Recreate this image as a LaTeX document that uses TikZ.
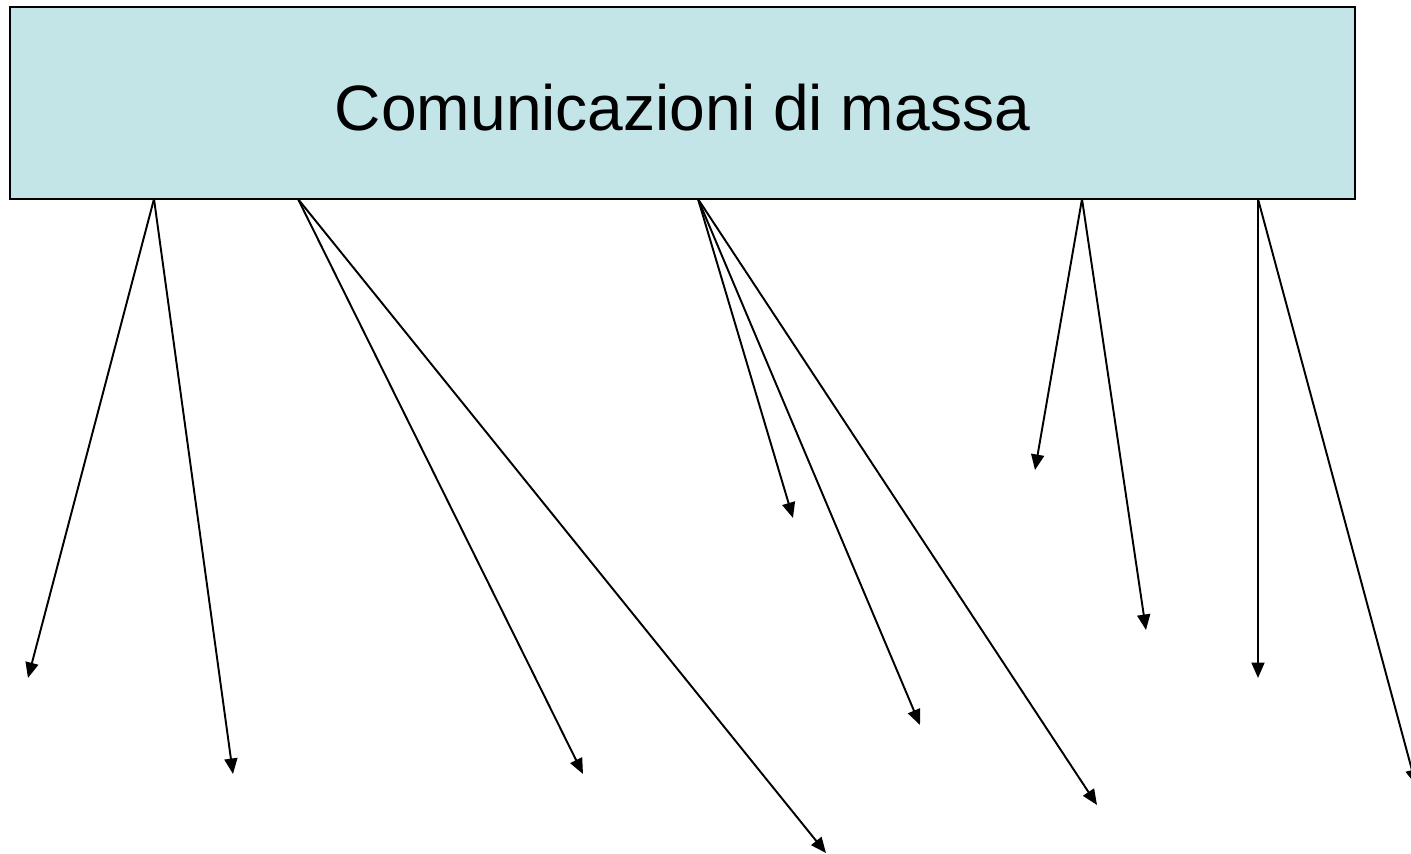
\documentclass[tikz,border=0pt]{standalone}
\usepackage{fontspec}
\setmainfont{Liberation Sans}
\usetikzlibrary{arrows.meta}

\definecolor{boxcyan}{RGB}{196,229,232}

\begin{document}
\begin{tikzpicture}[x=0.02cm,y=-0.02cm,
  titlebox/.style={draw, line width=1.3pt, fill=boxcyan, minimum width=26.9cm, minimum height=3.84cm, inner sep=0pt},
  link/.style={line width=1.1pt, -{Triangle[length=0.31cm,width=0.26cm]}}]
\useasboundingbox (0,0) rectangle (1411,854);
\node[titlebox, label={[yshift=-0.1cm, font=\fontsize{36.5}{42}\selectfont]center:Comunicazioni di massa}] (massa) at (682.5,103) {};
% starting points on the lower edge
\foreach \n/\x in {a/154,b/298,c/698,d/1082,e/1258}
  \coordinate (\n) at (\x,199);
% free ends of the arrows
\foreach \n/\x/\y in {a1/28/678,a2/233/774,b1/583/774,b2/826/853,c1/793/518,c2/920/725,c3/1097/805,d1/1035/470,d2/1146/630,e1/1258/678,e2/1416/785}
  \coordinate (\n) at (\x,\y);
\draw[link] (a) -- (a1);
\draw[link] (a) -- (a2);
\draw[link] (b) -- (b1);
\draw[link] (b) -- (b2);
\draw[link] (c) -- (c1);
\draw[link] (c) -- (c2);
\draw[link] (c) -- (c3);
\draw[link] (d) -- (d1);
\draw[link] (d) -- (d2);
\draw[link] (e) -- (e1);
\draw[link] (e) -- (e2);
\end{tikzpicture}
\end{document}
